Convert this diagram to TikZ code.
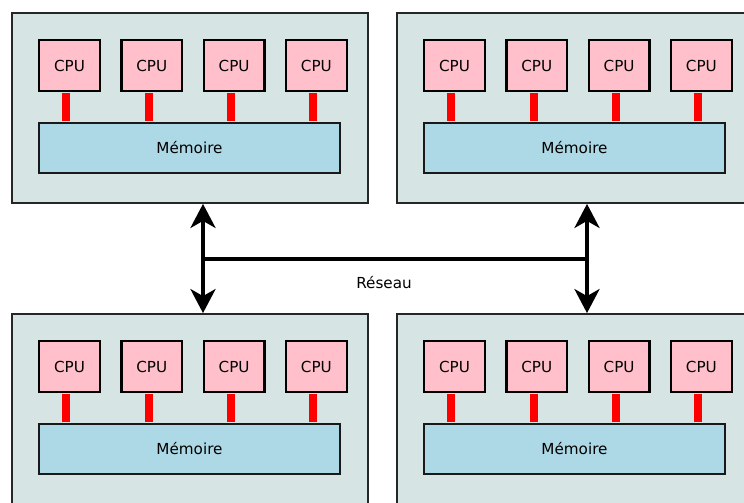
\documentclass[tikz,border=0pt]{standalone}
\usepackage{fontspec}
\setmainfont{DejaVu Sans}
\usetikzlibrary{arrows.meta}
\definecolor{modfill}{RGB}{214,228,228}
\definecolor{cpufill}{RGB}{255,192,203}
\definecolor{memfill}{RGB}{173,216,230}
\definecolor{busred}{RGB}{255,0,0}
\begin{document}
\begin{tikzpicture}[x=1pt,y=-1pt,
  font=\fontsize{15.2}{18}\selectfont,
  module/.style={draw=black!85, line width=1.8pt, fill=modfill, minimum width=356pt, minimum height=190pt, inner sep=0pt},
  cpubox/.style={draw=black, line width=2.3pt, fill=cpufill, minimum width=60.5pt, minimum height=50.5pt, inner sep=0pt},
  membox/.style={draw=black!90, line width=2pt, fill=memfill, minimum width=301pt, minimum height=50pt, inner sep=0pt},
  bus/.style={draw=busred, line width=8pt, shorten <=1pt, shorten >=1pt},
  net/.style={draw=black, line width=4pt},
  nettip/.style={{Stealth[length=24pt,width=25pt,inset=7pt]}-{Stealth[length=24pt,width=25pt,inset=7pt]}}
]
\useasboundingbox (0,0) rectangle (744,503);
\clip (0,0) rectangle (744,503);
\fill[white] (0,0) rectangle (744,503);
\foreach \m/\ox/\oy in {tl/11/12, tr/396/12, bl/11/313, br/396/313} {
  \node[module] (\m) at ({\ox+179},{\oy+96}) {};
  \node[membox] (\m-mem) at ({\ox+178.5},{\oy+136}) {Mémoire};
  \foreach \i in {1,...,4} {
    \node[cpubox] (\m-cpu\i) at ({\ox+58.5+(\i-1)*82.3},{\oy+53.5}) {CPU};
    \path (\m-cpu\i.south) ++(-3.3,0) coordinate (\m-a\i);
    \draw[bus] (\m-a\i) -- (\m-a\i |- \m-mem.north);
  }
}
\coordinate (la) at (203,259);
\coordinate (ra) at (587,259);
\draw[net,nettip] (tl.south -| la) -- (bl.north -| la);
\draw[net,nettip] (tr.south -| ra) -- (br.north -| ra);
\draw[net] (la) -- (ra);
\node (reseau) at (384,283) {Réseau};
\end{tikzpicture}
\end{document}
